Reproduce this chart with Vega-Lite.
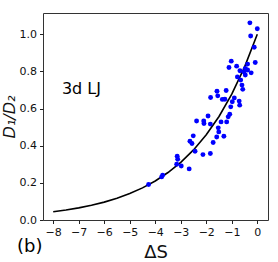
{
  "$schema": "https://vega.github.io/schema/vega-lite/v6.json",
  "width": 225,
  "height": 207,
  "autosize": {"type": "none"},
  "padding": {"left": 43, "top": 13, "right": 10, "bottom": 42},
  "background": "white",
  "config": {
    "view": {"stroke": "#333", "strokeWidth": 1},
    "font": "DejaVu Sans",
    "axis": {
      "grid": false,
      "domain": false,
      "tickColor": "#222",
      "tickSize": 3.5,
      "labelColor": "#111",
      "labelFont": "DejaVu Sans",
      "labelFontSize": 11,
      "labelBound": false,
      "titleFont": "DejaVu Sans",
      "titleColor": "#111",
      "titleFontWeight": "normal"
    }
  },
  "datasets": {
    "pts": [
      {"dS": -0.29, "r": 1.061}, {"dS": 0.0, "r": 1.029}, {"dS": -0.26, "r": 0.990}, {"dS": -0.12, "r": 0.930},
      {"dS": -1.02, "r": 0.855}, {"dS": -1.11, "r": 0.821}, {"dS": -0.81, "r": 0.828}, {"dS": -0.08, "r": 0.848},
      {"dS": -0.68, "r": 0.803}, {"dS": -0.38, "r": 0.839}, {"dS": -0.47, "r": 0.816}, {"dS": -0.52, "r": 0.797},
      {"dS": -0.38, "r": 0.807}, {"dS": -0.24, "r": 0.792}, {"dS": -0.78, "r": 0.770}, {"dS": -0.65, "r": 0.753},
      {"dS": -0.47, "r": 0.780}, {"dS": -0.60, "r": 0.726}, {"dS": -0.57, "r": 0.703}, {"dS": -1.58, "r": 0.693},
      {"dS": -1.22, "r": 0.697}, {"dS": -1.55, "r": 0.668}, {"dS": -1.83, "r": 0.659}, {"dS": -1.37, "r": 0.649},
      {"dS": -1.27, "r": 0.650}, {"dS": -0.90, "r": 0.657}, {"dS": -0.98, "r": 0.636}, {"dS": -0.71, "r": 0.640},
      {"dS": -1.04, "r": 0.609}, {"dS": -0.69, "r": 0.618}, {"dS": -1.08, "r": 0.569}, {"dS": -1.14, "r": 0.555},
      {"dS": -2.38, "r": 0.533}, {"dS": -2.10, "r": 0.533}, {"dS": -1.93, "r": 0.560}, {"dS": -1.84, "r": 0.516},
      {"dS": -1.42, "r": 0.528}, {"dS": -1.20, "r": 0.528}, {"dS": -1.53, "r": 0.496}, {"dS": -2.09, "r": 0.519},
      {"dS": -1.51, "r": 0.474}, {"dS": -1.59, "r": 0.447}, {"dS": -1.31, "r": 0.451}, {"dS": -1.73, "r": 0.417},
      {"dS": -2.51, "r": 0.453}, {"dS": -2.64, "r": 0.424}, {"dS": -2.56, "r": 0.412}, {"dS": -2.44, "r": 0.370},
      {"dS": -2.13, "r": 0.352}, {"dS": -1.84, "r": 0.358}, {"dS": -3.14, "r": 0.343}, {"dS": -3.12, "r": 0.327},
      {"dS": -3.16, "r": 0.300}, {"dS": -2.98, "r": 0.291}, {"dS": -2.67, "r": 0.275}, {"dS": -3.71, "r": 0.241},
      {"dS": -3.75, "r": 0.232}, {"dS": -4.26, "r": 0.191}
    ],
    "fit": [
      {"dS": -8, "r": 0.0442}, {"dS": -7.5, "r": 0.0537}, {"dS": -7, "r": 0.0652}, {"dS": -6.5, "r": 0.0793},
      {"dS": -6, "r": 0.0963}, {"dS": -5.5, "r": 0.1171}, {"dS": -5, "r": 0.1423}, {"dS": -4.5, "r": 0.1729},
      {"dS": -4, "r": 0.2101}, {"dS": -3.5, "r": 0.2554}, {"dS": -3, "r": 0.3104}, {"dS": -2.5, "r": 0.3772},
      {"dS": -2, "r": 0.4584}, {"dS": -1.5, "r": 0.5571}, {"dS": -1, "r": 0.6771}, {"dS": -0.5, "r": 0.8228},
      {"dS": 0, "r": 1.0}
    ],
    "labels": [
      {"dS": -7.66, "r": 0.704, "t": "3d LJ", "s": 16},
      {"dS": -9.42, "r": -0.147, "t": "(b)", "s": 18}
    ]
  },
  "layer": [
    {
      "data": {"name": "fit"},
      "mark": {"type": "line", "color": "black", "strokeWidth": 1.6},
      "encoding": {
        "x": {"field": "dS", "type": "quantitative",
              "scale": {"domain": [-8.4, 0.42], "nice": false, "zero": false},
              "axis": {"values": [-8, -7, -6, -5, -4, -3, -2, -1, 0], "tickCount": 20, "labelOverlap": false, "format": "d", "title": "ΔS", "titleFontSize": 18, "titlePadding": 6, "labelPadding": 3}},
        "y": {"field": "r", "type": "quantitative",
              "scale": {"domain": [0, 1.114], "nice": false, "zero": false},
              "axis": {"values": [0, 0.2, 0.4, 0.6, 0.8, 1.0], "tickCount": 20, "labelOverlap": false, "format": ".1f", "title": "D₁/D₂", "titleFontSize": 16, "titleFontStyle": "italic", "titlePadding": 2, "labelPadding": 3}}
      }
    },
    {
      "data": {"name": "pts"},
      "mark": {"type": "circle", "color": "#0000ff", "opacity": 1, "size": 24},
      "encoding": {
        "x": {"field": "dS", "type": "quantitative"},
        "y": {"field": "r", "type": "quantitative"}
      }
    },
    {
      "data": {"name": "labels"},
      "mark": {"type": "text", "align": "left", "baseline": "middle", "color": "black", "clip": false, "font": "DejaVu Sans"},
      "encoding": {
        "x": {"field": "dS", "type": "quantitative"},
        "y": {"field": "r", "type": "quantitative"},
        "text": {"field": "t"},
        "size": {"field": "s", "type": "quantitative", "scale": null}
      }
    }
  ]
}
